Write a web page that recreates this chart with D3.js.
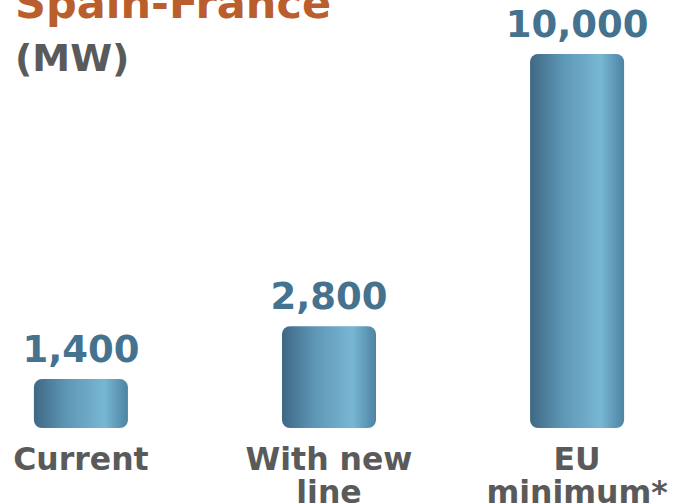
<!DOCTYPE html>
<html>
<head>
<meta charset="utf-8">
<script src="https://cdn.jsdelivr.net/npm/d3@7"></script>
<style>
  body { margin: 0; background: #fff; }
  text { font-family: "DejaVu Sans", Verdana, sans-serif; font-weight: bold; }
</style>
</head>
<body>
<script>
var categories = ["Current", "With new line", "EU minimum*"];
var catLines = [["Current"], ["With new", "line"], ["EU", "minimum*"]];
var values = [1400, 2800, 10000];
var title = "Spain-France";
var unit = "(MW)";

var width = 675, height = 503;
var baseline = 428;

var svg = d3.select("body").append("svg")
    .attr("width", width)
    .attr("height", height);

var x = d3.scaleBand()
    .domain(categories)
    .range([-43, 701])
    .paddingInner(0.621)
    .paddingOuter(0.31);

var y = d3.scaleLinear()
    .domain([0, 10000])
    .range([432, 54]);

var fmt = d3.format(",");

// bar gradient
var grad = svg.append("defs").append("linearGradient")
    .attr("id", "barGrad")
    .attr("x1", "0%").attr("x2", "100%")
    .attr("y1", "0%").attr("y2", "0%");
grad.append("stop").attr("offset", "0%").attr("stop-color", "#3e6884");
grad.append("stop").attr("offset", "35%").attr("stop-color", "#5e97b6");
grad.append("stop").attr("offset", "75%").attr("stop-color", "#78b7d3");
grad.append("stop").attr("offset", "100%").attr("stop-color", "#4c83a2");

// title
svg.append("text")
    .attr("x", 15)
    .attr("y", 18)
    .attr("font-size", 43)
    .attr("fill", "#b95e2c")
    .text(title);

svg.append("text")
    .attr("x", 15)
    .attr("y", 71)
    .attr("font-size", 38)
    .attr("fill", "#5a5a5a")
    .text(unit);

// bars
svg.selectAll(".bar")
    .data(values)
  .enter().append("rect")
    .attr("class", "bar")
    .attr("x", function(d, i) { return x(categories[i]); })
    .attr("y", function(d) { return y(d); })
    .attr("width", x.bandwidth())
    .attr("height", function(d) { return baseline - y(d); })
    .attr("rx", 8)
    .attr("fill", "url(#barGrad)");

// value labels
svg.selectAll(".val")
    .data(values)
  .enter().append("text")
    .attr("class", "val")
    .attr("x", function(d, i) { return x(categories[i]) + x.bandwidth() / 2; })
    .attr("y", function(d) { return y(d) - 17; })
    .attr("text-anchor", "middle")
    .attr("font-size", 37)
    .attr("fill", "#44728f")
    .text(function(d) { return fmt(d); });

// category labels
var cat = svg.selectAll(".cat")
    .data(catLines)
  .enter().append("text")
    .attr("class", "cat")
    .attr("text-anchor", "middle")
    .attr("font-size", 31.5)
    .attr("fill", "#5a5a5a");

cat.selectAll("tspan")
    .data(function(d, i) { return d.map(function(s) { return {s: s, i: i}; }); })
  .enter().append("tspan")
    .attr("x", function(d) { return x(categories[d.i]) + x.bandwidth() / 2; })
    .attr("y", function(d, j) { return 470 + j * 33; })
    .text(function(d) { return d.s; });
</script>
</body>
</html>
